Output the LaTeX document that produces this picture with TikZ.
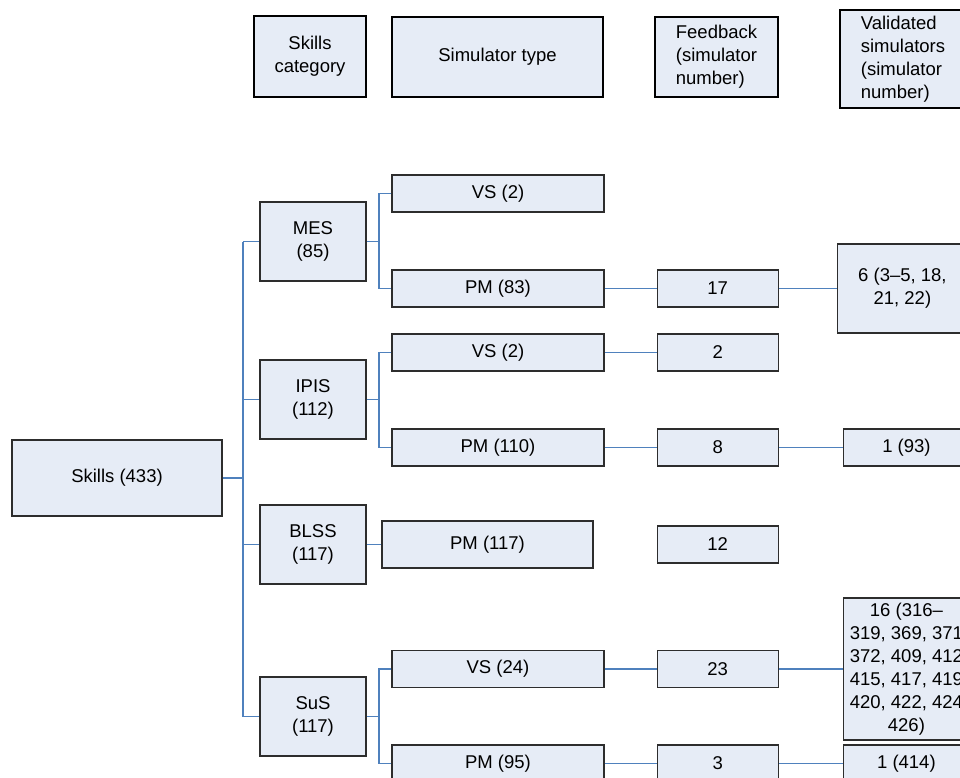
\documentclass[tikz,border=0pt]{standalone}
\usepackage{fontspec}
\setmainfont{Liberation Sans}
\definecolor{BoxFill}{RGB}{230, 236, 246}
\definecolor{LinkBlue}{RGB}{79, 129, 189}
\definecolor{EdgeGrey}{RGB}{45, 45, 45}
\usepackage{tikz}
\usetikzlibrary{positioning}

\begin{document}
\begin{tikzpicture}[x=1pt, y=-1pt,
    box/.style={draw=EdgeGrey, fill=BoxFill, line width=1.2pt, inner sep=0pt,
                align=center, minimum height=37, font=\fontsize{18.5}{23}\selectfont},
    headbox/.style={box, draw=black, line width=2pt},
    catbox/.style={box, minimum width=106, minimum height=79},
    simbox/.style={box, minimum width=212},
    fbbox/.style={box, minimum width=121},
    valbox/.style={box, minimum width=126},
    link/.style={draw=LinkBlue, line width=1.1pt}]
    \useasboundingbox (0,0) rectangle (960,777);
    \clip (0,0) rectangle (960,777);

    % column headings
    \node[headbox, minimum width=112, minimum height=81] (hcat) at (310,56.5) {Skills\\category};
    \node[headbox, minimum width=211, minimum height=80] (htype) at (497.5,57) {Simulator type};
    \node[headbox, minimum width=123, minimum height=80, align=left] (hfb) at (716.5,57) {Feedback\\(simulator\\number)};
    \node[headbox, minimum width=126, minimum height=98, align=left] (hval) at (903,59) {Validated\\simulators\\(simulator\\number)};

    % root and categories
    \node[box, minimum width=210, minimum height=76] (skills) at (117,478) {Skills (433)};
    \node[catbox] (mes) at (313,241.5) {MES\\(85)};
    \node[catbox] (ipis) at (313,399.5) {IPIS\\(112)};
    \node[catbox] (blss) at (313,544.5) {BLSS\\(117)};
    \node[catbox] (sus) at (313,716.5) {SuS\\(117)};

    % simulator types
    \node[simbox] (mes-vs) at (498,193.5) {VS (2)};
    \node[simbox] (mes-pm) at (498,288.5) {PM (83)};
    \node[simbox] (ipis-vs) at (498,352.5) {VS (2)};
    \node[simbox] (ipis-pm) at (498,447.5) {PM (110)};
    \node[box, minimum width=211, minimum height=47] (blss-pm) at (487.5,544.5) {PM (117)};
    \node[simbox] (sus-vs) at (498,669) {VS (24)};
    \node[simbox] (sus-pm) at (498,763.5) {PM (95)};

    % feedback
    \node[fbbox, right=52pt of mes-pm] (fb17) {17};
    \node[fbbox, right=52pt of ipis-vs] (fb2) {2};
    \node[fbbox, right=52pt of ipis-pm] (fb8) {8};
    \node[fbbox, right=63pt of blss-pm] (fb12) {12};
    \node[fbbox, right=52pt of sus-vs] (fb23) {23};
    \node[fbbox, right=52pt of sus-pm] (fb3) {3};

    % validated simulators
    \node[valbox, minimum width=130, minimum height=89, right=58pt of fb17] (val6) {6 (3–5, 18,\\21, 22)};
    \node[valbox, right=64pt of fb8] (val93) {1 (93)};
    \node[valbox, minimum height=142, right=64pt of fb23] (val16)
        {16 (316–\\319, 369, 371\\372, 409, 412\\415, 417, 419\\420, 422, 424\\426)};
    \node[valbox, right=64pt of fb3] (val414) {1 (414)};

    % connectors
    \coordinate (trunk) at (243,0);
    \coordinate (fork) at (379,0);
    \draw[link, line width=2pt] (skills.east) -- (trunk |- skills.east);
    \draw[link] (trunk |- mes.west) -- (trunk |- sus.west);
    \foreach \c in {mes, ipis, blss, sus}
        \draw[link] (trunk |- \c.west) -- (\c.west);
    \foreach \c in {mes, ipis, sus} {
        \draw[link, line width=1.6pt] (\c.east) -- (fork |- \c.east);
        \draw[link] (\c-vs.west) -| (fork |- \c.east) |- (\c-pm.west);
    }
    \draw[link] (blss.east) -- (blss-pm.west);
    \draw[link] (mes-pm.east) -- (fb17.west);
    \draw[link] (ipis-vs.east) -- (fb2.west);
    \draw[link] (ipis-pm.east) -- (fb8.west);
    \draw[link] (sus-vs.east) -- (fb23.west);
    \draw[link] (sus-pm.east) -- (fb3.west);
    \draw[link] (fb17.east) -- (val6.west);
    \draw[link] (fb8.east) -- (val93.west);
    \draw[link] (fb23.east) -- (val16.west);
    \draw[link] (fb3.east) -- (val414.west);
\end{tikzpicture}
\end{document}
